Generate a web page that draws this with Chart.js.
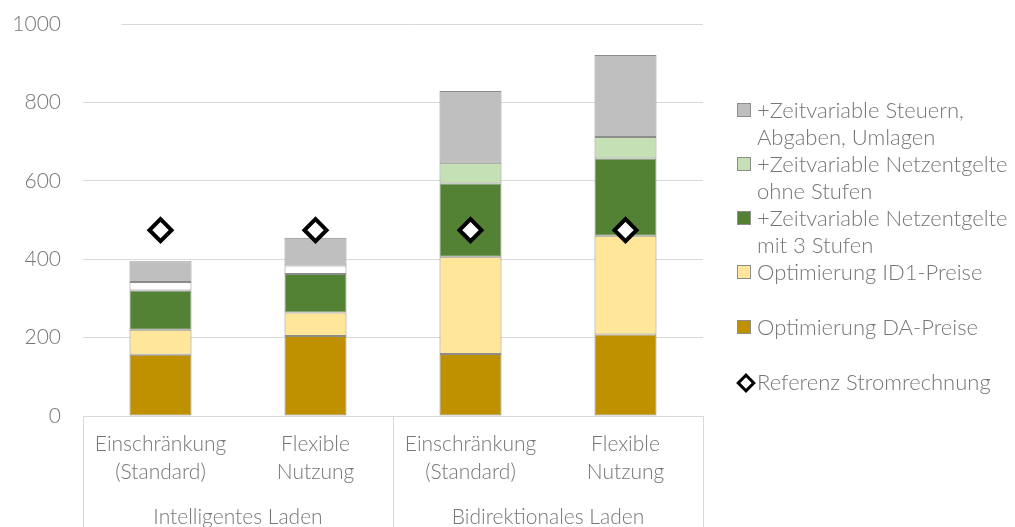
<!DOCTYPE html>
<html><head><meta charset="utf-8">
<script src="https://cdn.jsdelivr.net/npm/chart.js@4.4.1/dist/chart.umd.min.js"></script>
<style>
html,body{margin:0;padding:0;background:#fff;}
#wrap{position:relative;width:1015px;height:527px;overflow:hidden;}
#c{position:absolute;left:0;top:0;}
#legend{position:absolute;left:737px;top:96px;font-family:Lato,sans-serif;font-weight:300;font-size:22px;color:#767676;line-height:27px;}
.item{position:relative;padding-left:20px;}
.box{position:absolute;left:0;top:7px;width:12px;height:12px;border:1px solid #8c8c8c;}
.dia{position:absolute;left:2px;top:8px;width:8px;height:8px;border:3px solid #000;background:#fff;transform:rotate(45deg);}
</style></head>
<body><div id="wrap"><canvas id="c" width="1015" height="527"></canvas><div id="legend"></div></div>
<script>
const categories = [['Einschränkung','(Standard)'],['Flexible','Nutzung'],['Einschränkung','(Standard)'],['Flexible','Nutzung']];
const groups = ['Intelligentes Laden','Bidirektionales Laden'];
const daPreise = [156, 204, 158, 208];
const id1Preise = [64, 60, 248, 252];
const netz3Stufen = [100, 98, 187, 197];
const netzOhneStufen = [22, 22, 53, 55];
const steuern = [53, 71, 183, 209];
const referenz = [474, 474, 474, 474];
const yTicks = [0, 200, 400, 600, 800, 1000];

const FONT = {family:'Lato, sans-serif', size:21, weight:300, lineHeight:1.333};
const TXT = '#767676';
const GRID = '#d9d9d9';
const EDGE = '#8c8c8c';

const groupLines = {
  id:'groupLines',
  afterDraw(chart){
    const ctx = chart.ctx, a = chart.chartArea;
    ctx.save();
    ctx.strokeStyle = GRID; ctx.lineWidth = 1;
    const n = categories.length, half = n/2;
    const w = (a.right - a.left)/n;
    [0, half, n].forEach(i=>{
      const px = Math.round(a.left + i*w) + 0.5;
      ctx.beginPath(); ctx.moveTo(px, a.bottom); ctx.lineTo(px, chart.height); ctx.stroke();
    });
    const yy = Math.round(chart.scales.y.getPixelForValue(1000)) + 0.5;
    ctx.beginPath(); ctx.moveTo(a.left + 39, yy); ctx.lineTo(a.right, yy); ctx.stroke();
    ctx.restore();
  }
};

const mkBar = (label, data, color) => ({type:'bar', label, data, backgroundColor:color, borderColor:EDGE, borderWidth:1, borderSkipped:false, stack:'s', order:2});

new Chart(document.getElementById('c'), {
  data:{
    labels: categories,
    datasets:[
      mkBar('Optimierung DA-Preise', daPreise, '#BF9000'),
      mkBar('Optimierung ID1-Preise', id1Preise, '#FFE699'),
      mkBar('+Zeitvariable Netzentgelte mit 3 Stufen', netz3Stufen, '#548235'),
      mkBar('+Zeitvariable Netzentgelte ohne Stufen', netzOhneStufen, ['#ffffff','#ffffff','#C5E0B4','#C5E0B4']),
      mkBar('+Zeitvariable Steuern, Abgaben, Umlagen', steuern, '#BFBFBF'),
      {type:'line', label:'Referenz Stromrechnung', data:referenz, showLine:false, pointStyle:'rectRot', pointRadius:11, pointHoverRadius:11, pointBackgroundColor:'#fff', pointBorderColor:'#000', pointBorderWidth:4, order:1}
    ]
  },
  options:{
    responsive:false, animation:false,
    layout:{autoPadding:false, padding:{top:24, right:312, left:0, bottom:0}},
    datasets:{bar:{categoryPercentage:1, barPercentage:0.4}},
    plugins:{legend:{display:false}, tooltip:{enabled:false}},
    scales:{
      x:{stacked:true, position:'bottom', grid:{display:false, drawTicks:false}, border:{display:false},
         ticks:{color:TXT, font:FONT, padding:14, maxRotation:0, autoSkip:false},
         afterFit(s){ s.height = 78; s.paddingLeft = 0; s.paddingRight = 0; }},
      x2:{type:'category', labels:groups, offset:true, position:'bottom', grid:{display:false, drawTicks:false}, border:{display:false},
         ticks:{color:TXT, font:FONT, padding:9, maxRotation:0, autoSkip:false},
         afterFit(s){ s.height = 33; s.paddingLeft = 0; s.paddingRight = 0; }},
      y:{stacked:true, min:0, max:1000,
         afterBuildTicks(s){ s.ticks = yTicks.map(v=>({value:v})); },
         grid:{color:(c)=> c.tick && c.tick.value === 1000 ? 'rgba(0,0,0,0)' : GRID, drawTicks:false},
         border:{display:false},
         ticks:{color:TXT, font:FONT, padding:22, callback:(v)=>String(v)},
         afterFit(s){ s.width = 83; s.paddingTop = 0; s.paddingBottom = 0; }}
    }
  },
  plugins:[groupLines]
});

const legendItems = [
  {t:['+Zeitvariable Steuern,','Abgaben, Umlagen'], c:'#BFBFBF'},
  {t:['+Zeitvariable Netzentgelte','ohne Stufen'], c:'#C5E0B4'},
  {t:['+Zeitvariable Netzentgelte','mit 3 Stufen'], c:'#548235'},
  {t:['Optimierung ID1-Preise'], c:'#FFE699', after:28},
  {t:['Optimierung DA-Preise'], c:'#BF9000', after:28},
  {t:['Referenz Stromrechnung'], dia:true}
];
const lg = document.getElementById('legend');
legendItems.forEach(it=>{
  const d = document.createElement('div'); d.className='item';
  if (it.after) d.style.marginBottom = it.after+'px';
  const m = document.createElement('span');
  if (it.dia) m.className='dia'; else { m.className='box'; m.style.background = it.c; }
  d.appendChild(m);
  it.t.forEach((line)=>{ const s=document.createElement('div'); s.textContent=line; d.appendChild(s); });
  lg.appendChild(d);
});
</script></body></html>
